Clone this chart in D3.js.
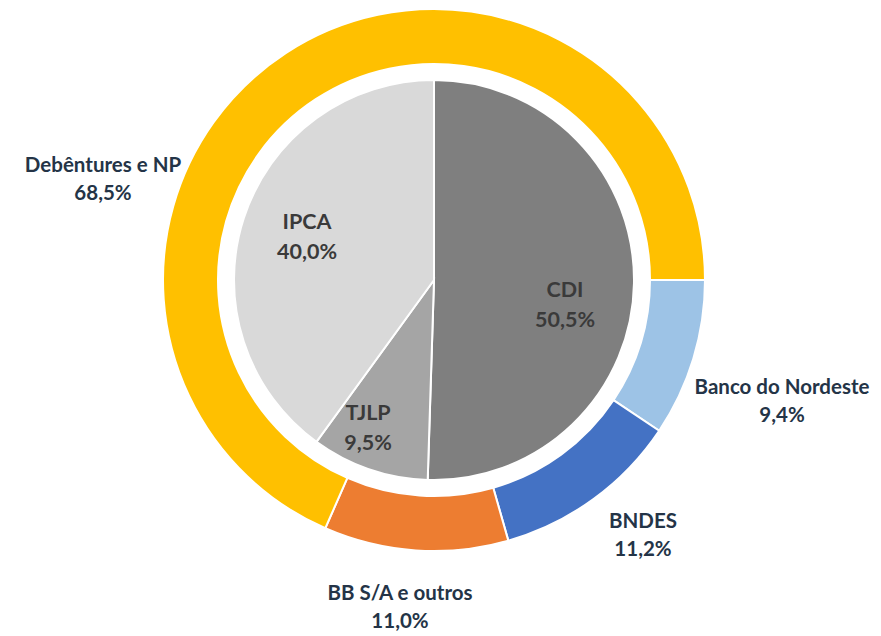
<!DOCTYPE html>
<html>
<head>
<meta charset="utf-8">
<script src="https://cdn.jsdelivr.net/npm/d3@7"></script>
<style>
  body { margin: 0; background: #fff; }
  svg text { font-family: Lato, "Open Sans", sans-serif; font-weight: bold; }
</style>
</head>
<body>
<div id="chart"></div>
<script>
// Outer ring: funding sources (clockwise from 3 o'clock)
var outerNames = ["Banco do Nordeste", "BNDES", "BB S/A e outros", "Debêntures e NP"];
var outerValues = [9.4, 11.2, 11.0, 68.5];
var outerColors = ["#9DC3E6", "#4472C4", "#ED7D31", "#FFC000"];

// Inner pie: indexers (clockwise from 12 o'clock)
var innerNames = ["CDI", "TJLP", "IPCA"];
var innerValues = [50.5, 9.5, 40.0];
var innerColors = ["#7F7F7F", "#A5A5A5", "#D9D9D9"];

// Chart dimensions
var width = 881;
var height = 636;
var cx = 434, cy = 280;
var ringOuter = 271, ringInner = 216, pieRadius = 200;

// label offsets from the chart centre (placed by hand in the original)
var outerLabelPos = {
  "Banco do Nordeste": [348, 121],
  "BNDES": [209, 255],
  "BB S/A e outros": [-34, 327],
  "Debêntures e NP": [-331, -101]
};
var innerLabelPos = {
  "CDI": [131, 25],
  "TJLP": [-66, 148],
  "IPCA": [-127, -43]
};

function fmt(v) { return v.toFixed(1).replace(".", ",") + "%"; }

var svg = d3.select("#chart")
  .append("svg")
  .attr("width", width)
  .attr("height", height)
  .append("g")
  .attr("transform", "translate(" + cx + "," + cy + ")");

var outerData = outerNames.map(function(n, i) { return { name: n, value: outerValues[i], color: outerColors[i] }; });
var innerData = innerNames.map(function(n, i) { return { name: n, value: innerValues[i], color: innerColors[i] }; });

var outerPie = d3.pie()
  .value(function(d) { return d.value; })
  .sort(null)
  .startAngle(Math.PI / 2)
  .endAngle(Math.PI / 2 + 2 * Math.PI);

var innerPie = d3.pie()
  .value(function(d) { return d.value; })
  .sort(null);

var outerArc = d3.arc().innerRadius(ringInner).outerRadius(ringOuter);
var innerArc = d3.arc().innerRadius(0).outerRadius(pieRadius);

svg.selectAll("path.outer")
  .data(outerPie(outerData))
  .enter()
  .append("path")
  .attr("class", "outer")
  .attr("d", outerArc)
  .attr("fill", function(d) { return d.data.color; })
  .attr("stroke", "#fff")
  .attr("stroke-width", 2);

svg.selectAll("path.inner")
  .data(innerPie(innerData))
  .enter()
  .append("path")
  .attr("class", "inner")
  .attr("d", innerArc)
  .attr("fill", function(d) { return d.data.color; })
  .attr("stroke", "#fff")
  .attr("stroke-width", 2);

// outer labels
var ol = svg.selectAll("text.olabel")
  .data(outerData)
  .enter()
  .append("text")
  .attr("class", "olabel")
  .attr("text-anchor", "middle")
  .attr("fill", "#243447")
  .attr("font-size", 20.5)
  .attr("transform", function(d) {
    var p = outerLabelPos[d.name];
    return "translate(" + p[0] + "," + p[1] + ")";
  });
ol.append("tspan").attr("x", 0).attr("y", -7).text(function(d) { return d.name; });
ol.append("tspan").attr("x", 0).attr("y", 21).text(function(d) { return fmt(d.value); });

// inner labels
var il = svg.selectAll("text.ilabel")
  .data(innerData)
  .enter()
  .append("text")
  .attr("class", "ilabel")
  .attr("text-anchor", "middle")
  .attr("fill", "#3A3A3A")
  .attr("font-size", 21.5)
  .attr("transform", function(d) {
    var p = innerLabelPos[d.name];
    return "translate(" + p[0] + "," + p[1] + ")";
  });
il.append("tspan").attr("x", 0).attr("y", -8).text(function(d) { return d.name; });
il.append("tspan").attr("x", 0).attr("y", 22).text(function(d) { return fmt(d.value); });
</script>
</body>
</html>
